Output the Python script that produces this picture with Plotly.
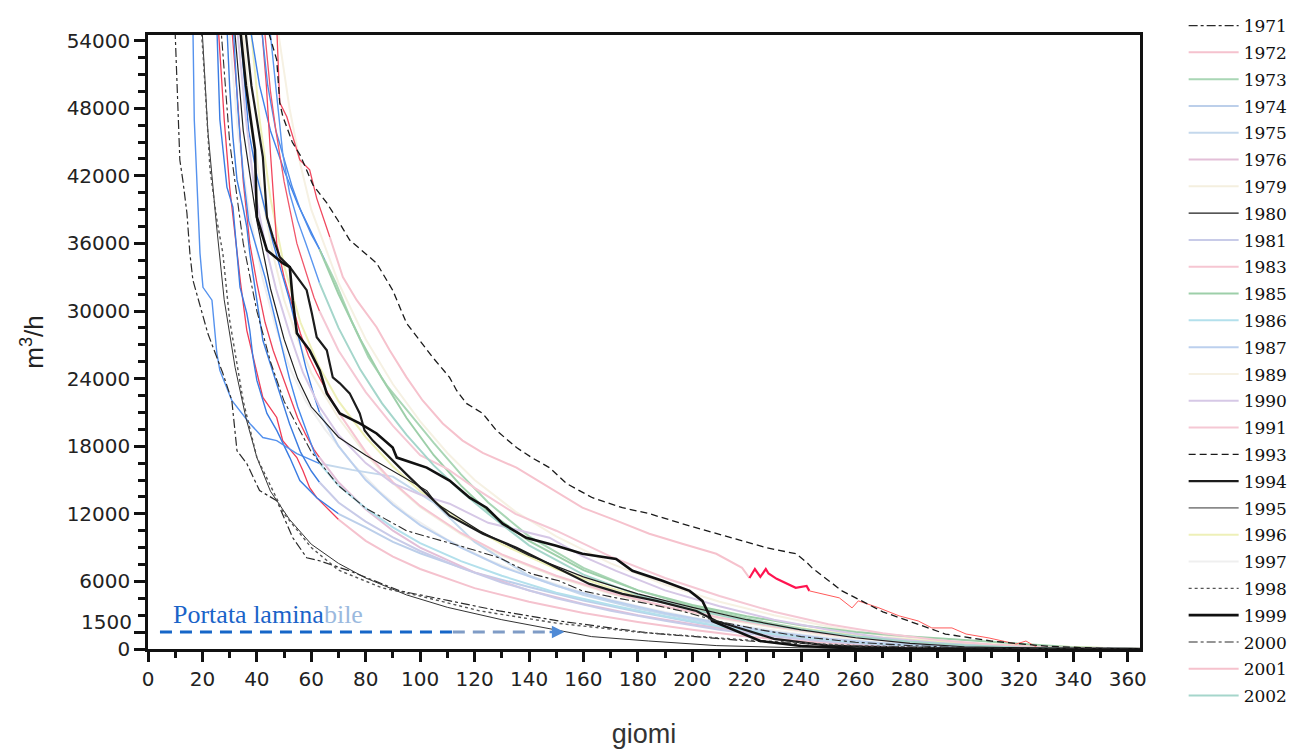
import plotly.graph_objects as go

# ---------------- data ----------------
d1971 = [0, 7, 9.9, 10.6, 11.7, 12.8, 14.3, 15.4, 16.5, 22, 27.5, 30.8, 32.7, 36.3, 41, 47.3, 53.2, 58.3, 63, 74, 92.5, 111, 129, 151, 184, 221, 258, 300, 365]
q1971 = [90000, 62000, 55250, 49900, 43400, 41600, 38700, 35100, 32740, 28000, 24470, 22060, 17600, 16460, 14060, 13170, 9875, 8100, 7830, 6940, 5160, 4270, 3380, 2490, 1420, 710, 270, 60, 0]

d1972 = [0, 24, 26, 28, 30, 32, 34, 36.3, 40, 42.2, 47.3, 49.5, 54.7, 56.9, 59.4, 62, 70, 80, 90, 100, 120, 140, 160, 180, 200, 220, 240, 260, 290, 330, 365]
q1972 = [90000, 62000, 54500, 47000, 41000, 36500, 32500, 28290, 24470, 22330, 20550, 18500, 16990, 15840, 14320, 13430, 11500, 9600, 8200, 7100, 5400, 4200, 3200, 2400, 1700, 1100, 700, 400, 150, 30, 0]

d1973 = [0, 36, 38, 41, 45, 50, 55, 60, 65, 69, 75, 81, 88, 95, 105, 115, 125, 140, 160, 180, 200, 220, 240, 260, 280, 300, 320, 345, 365]
q1973 = [90000, 62000, 54500, 50000, 46000, 42500, 39500, 37000, 34500, 32500, 29000, 25900, 23300, 21200, 18300, 15500, 13000, 10000, 7200, 5200, 3800, 2700, 1800, 1100, 650, 350, 150, 40, 0]

d1974 = [0, 23, 25.3, 26.4, 29, 31.2, 32.7, 33.8, 36.3, 37.4, 38.5, 40, 43.7, 47.3, 52.1, 55.8, 59.4, 62, 70, 80, 90, 100, 120, 140, 160, 180, 200, 220, 240, 260, 280, 300, 330, 365]
q1974 = [90000, 62000, 55250, 47000, 41000, 39230, 35140, 32120, 29800, 28290, 26000, 23840, 20910, 19400, 16990, 14950, 14060, 13430, 12000, 10800, 9500, 8500, 6800, 5500, 4300, 3300, 2400, 1600, 1000, 600, 300, 150, 30, 0]

d1975 = [0, 15, 16.5, 17, 19.1, 20.2, 23.5, 25.3, 26.4, 30.8, 37.4, 42.2, 47.3, 54.7, 63.1, 75, 90, 105, 120, 140, 160, 180, 200, 220, 240, 260, 290, 320, 365]
q1975 = [90000, 62000, 55250, 47000, 35140, 32100, 30960, 26250, 24730, 22060, 20020, 18770, 18500, 17350, 16460, 15900, 15300, 13000, 9500, 6500, 4800, 3600, 2600, 1800, 1100, 600, 250, 60, 0]

d1976 = [0, 29, 31, 33, 35, 37.4, 40, 43, 46, 49, 52, 55, 58, 61, 63, 70, 80, 90, 100, 120, 140, 160, 180, 200, 220, 240, 260, 280, 310, 345, 365]
q1976 = [90000, 62000, 54500, 48500, 41500, 36000, 32500, 29000, 26500, 24500, 22500, 20500, 19000, 17700, 17000, 14800, 12400, 10500, 9000, 6800, 5200, 4000, 3000, 2200, 1500, 950, 550, 280, 80, 10, 0]

d1979 = [0, 33, 35, 38, 42, 46, 50, 55, 60, 70, 80, 90, 100, 115, 130, 150, 170, 190, 210, 230, 250, 270, 290, 320, 365]
q1979 = [90000, 62000, 54500, 47000, 40000, 35000, 31000, 27500, 24500, 20500, 17300, 14700, 12600, 10200, 8300, 6400, 4900, 3700, 2700, 1900, 1200, 700, 350, 100, 0]

d1980 = [0, 30, 32, 35, 40, 45, 50, 55, 60, 70, 80, 91.4, 102.4, 106, 114.5, 121.8, 130, 140, 160, 180, 200, 220, 240, 260, 280, 300, 330, 365]
q1980 = [90000, 62000, 54500, 46000, 38000, 32000, 27500, 24000, 21500, 18800, 17200, 15570, 14060, 12900, 11650, 10500, 9500, 8300, 6400, 4900, 3700, 2600, 1700, 1000, 500, 200, 40, 0]

d1981 = [0, 27, 29, 30, 31.2, 32.7, 34.9, 36.3, 37.4, 38.5, 40, 41.1, 42.2, 43.7, 48, 52, 56, 60, 63, 70, 80, 90, 100, 115, 130, 150, 170, 190, 210, 230, 250, 270, 300, 330, 365]
q1981 = [90000, 62000, 55250, 49900, 45450, 41640, 39230, 37460, 35140, 33360, 31230, 29180, 27400, 26250, 23000, 20000, 17500, 15800, 14800, 13000, 11300, 9900, 8700, 7200, 5900, 4500, 3400, 2500, 1700, 1100, 650, 350, 120, 30, 0]

d1983 = [0, 40, 42, 43.5, 45, 47.3, 50, 53, 56, 59, 62, 70, 80, 90, 100, 115, 130, 150, 170, 190, 210, 230, 250, 270, 290, 310, 340, 365]
q1983 = [90000, 62000, 54500, 50000, 44000, 36000, 33000, 30500, 28000, 26000, 24500, 21000, 17500, 14800, 12700, 10300, 8400, 6500, 5000, 3800, 2800, 2000, 1300, 800, 450, 200, 50, 0]

d1985 = [0, 40, 42, 44, 47, 50, 53, 56, 60, 63, 70, 78, 86, 95, 105, 115, 125, 140, 160, 180, 200, 220, 240, 260, 280, 300, 320, 340, 360, 365]
q1985 = [90000, 62000, 54500, 50000, 46000, 43500, 41000, 39000, 36800, 35500, 31500, 27500, 24000, 20500, 17200, 14500, 12200, 9600, 7000, 5200, 3900, 2900, 2100, 1500, 1100, 800, 450, 150, 30, 0]

d1986 = [0, 30, 31.5, 33, 35, 37, 40, 43, 46, 49, 52, 55, 58, 61, 63, 70, 80, 90, 100, 115, 130, 150, 170, 190, 210, 230, 250, 270, 300, 340, 365]
q1986 = [90000, 60000, 54500, 48000, 42000, 38000, 35500, 33000, 30000, 27000, 24000, 21500, 19500, 17500, 16500, 14500, 12500, 10800, 9400, 7800, 6500, 5000, 3900, 2900, 2000, 1300, 800, 450, 150, 20, 0]

d1987 = [0, 32, 34, 35.5, 37, 40, 43, 46, 49, 52, 55, 58, 61, 63, 70, 80, 90, 100, 115, 130, 150, 170, 190, 210, 230, 250, 270, 300, 340, 365]
q1987 = [90000, 62000, 54500, 50000, 46000, 42000, 39000, 36000, 33500, 31000, 28000, 25000, 22500, 21000, 18000, 15000, 12800, 11000, 9000, 7300, 5600, 4300, 3200, 2300, 1500, 900, 500, 200, 30, 0]

d1989 = [0, 46, 48, 52, 56, 60, 70, 80, 90, 100, 110, 120, 135, 150, 170, 190, 210, 230, 250, 270, 290, 310, 340, 365]
q1989 = [90000, 62000, 54500, 48000, 43000, 39000, 32500, 27500, 23500, 20200, 17400, 15000, 12200, 10000, 7600, 5700, 4200, 3000, 2000, 1200, 650, 300, 60, 0]

d1990 = [0, 31, 33, 36, 39, 43, 47, 52, 57, 63, 70, 80, 90, 100, 110.8, 125, 147.5, 160, 172, 190, 210, 230, 250, 270, 290, 310, 340, 365]
q1990 = [90000, 62000, 54500, 47000, 41000, 36000, 32000, 28000, 24500, 21500, 19000, 16500, 14700, 13700, 12900, 11200, 9875, 8200, 6940, 5200, 3800, 2600, 1700, 1000, 550, 250, 50, 0]

d1991 = [0, 41, 43, 45, 47, 50, 54.7, 58, 61, 63, 70, 80, 90, 100, 110, 120, 135, 150, 170, 190, 210, 230, 250, 270, 290, 310, 330, 350, 365]
q1991 = [90000, 62000, 54500, 49500, 46000, 41500, 36000, 33500, 31200, 30000, 26500, 22800, 19800, 17200, 16000, 14300, 12000, 10500, 8200, 6300, 4700, 3300, 2200, 1400, 800, 400, 150, 40, 0]

d1993 = [0, 41, 43.7, 47.3, 48.4, 49.5, 53, 56, 60.6, 65.7, 69.7, 74.1, 84, 89.9, 95, 99.8, 104.6, 110.8, 113.4, 117, 123, 128, 135.4, 141, 147.5, 153.8, 163.3, 174.3, 184.2, 196.3, 214.7, 227.2, 238.2, 242.2, 244, 255, 270, 287, 293, 310, 330, 350, 365]
q1993 = [90000, 62000, 55250, 52300, 48500, 47300, 45000, 43800, 41200, 39590, 38080, 36300, 34250, 31850, 28910, 27400, 25890, 24110, 22950, 21800, 20910, 19400, 17880, 16990, 16100, 14680, 13430, 12540, 12010, 11120, 9875, 8990, 8450, 7650, 7200, 5160, 3300, 1870, 1330, 700, 250, 60, 0]

d1994 = [0, 35, 36, 38, 42.2, 43.7, 45.9, 48.4, 52.1, 55.8, 58.3, 60.2, 62, 65.7, 67.9, 70.5, 74.1, 77.8, 79.6, 82.6, 85.1, 95, 110.8, 123, 135.4, 145, 152.3, 162.2, 174.3, 186.8, 201.5, 208.8, 217.2, 230, 250, 280, 365]
q1994 = [90000, 62000, 54500, 50000, 43680, 38350, 36570, 34790, 33900, 32740, 31850, 29800, 27670, 26510, 24110, 23580, 22690, 20910, 19400, 18500, 17880, 15500, 11830, 10230, 8990, 7830, 6940, 5780, 4890, 4270, 3380, 2490, 1870, 900, 300, 50, 0]

d1995 = [0, 18, 20, 22, 25, 28, 32, 36, 40, 45, 52, 60, 70, 80, 95, 110, 130, 150, 163, 184, 209, 240, 280, 365]
q1995 = [90000, 62000, 54500, 46000, 38000, 31000, 25000, 20500, 17000, 14000, 11500, 9300, 7600, 6300, 4800, 3700, 2600, 1700, 1100, 710, 300, 100, 20, 0]

d1996 = [0, 36, 38, 41, 45, 50, 56, 63, 70, 80, 90, 100, 115, 130, 150, 170, 190, 210, 230, 250, 270, 290, 310, 330, 345, 360, 365]
q1996 = [90000, 62000, 54500, 47000, 40000, 34000, 29000, 25000, 22000, 18800, 16200, 14000, 11400, 9300, 7100, 5400, 4100, 3000, 2200, 1500, 1000, 650, 400, 250, 150, 50, 0]

d1997 = [0, 28, 30, 33, 37, 42, 47, 52, 58, 65, 75, 85, 95, 110, 125, 140, 160, 180, 200, 220, 240, 260, 280, 300, 330, 365]
q1997 = [90000, 62000, 54500, 46000, 39000, 33000, 28500, 25000, 22000, 19500, 16500, 14000, 12000, 9700, 7900, 6500, 5000, 3800, 2800, 2000, 1300, 800, 450, 200, 50, 0]

d1998 = [0, 18, 20.2, 21.7, 22.8, 25.3, 27.5, 30, 35, 40, 50, 60, 70, 86, 100, 122, 150, 180, 220, 260, 300, 365]
q1998 = [90000, 60000, 52940, 47000, 42530, 38080, 35140, 29180, 22000, 17000, 12000, 9000, 7000, 5430, 4700, 3380, 2300, 1500, 800, 300, 50, 0]

d1999 = [0, 32, 33.8, 36, 39.3, 40, 43.7, 49.5, 52.1, 53.2, 54.7, 59.4, 63.1, 65.7, 70.5, 77.8, 84, 89.9, 91.4, 102.4, 110.8, 118.2, 124.4, 130.3, 139, 150, 159.6, 172, 178, 189, 199, 203.7, 207.3, 216, 225, 240, 260, 365]
q1999 = [90000, 62000, 55250, 50000, 44300, 38350, 35400, 34250, 33900, 30960, 28020, 26510, 24730, 22690, 20910, 20020, 19130, 17880, 16990, 16100, 14950, 13430, 12540, 11120, 9875, 9160, 8450, 8000, 6940, 6050, 5160, 4270, 2490, 1600, 710, 270, 50, 0]

d2000 = [0, 25, 27, 30, 35, 40, 45, 50, 60, 70, 80, 95, 105, 117, 129, 141, 151, 159.6, 172, 184, 196, 209, 225, 240, 260, 280, 300, 330, 365]
q2000 = [90000, 62000, 54500, 45000, 36000, 30000, 25500, 22000, 17500, 14500, 12500, 10500, 9800, 8990, 8100, 6670, 6050, 5160, 4540, 4000, 3380, 2490, 1700, 1100, 600, 300, 120, 30, 0]

d2001 = [0, 45, 47.3, 48.4, 51, 55.8, 59.4, 62, 66.8, 71.6, 76.7, 84, 88.8, 95, 100.9, 108.3, 115.6, 123, 135.4, 147.5, 159.6, 172.1, 184.2, 196.3, 208.8, 218.3, 221, 223, 225, 227, 228, 231, 238, 242, 243, 254, 258.7, 261, 268.6, 276, 283, 288, 295.4, 300.6, 309, 319, 322.6, 327, 336, 365]
q2001 = [90000, 62000, 55250, 48500, 47240, 43420, 42530, 40000, 36570, 33010, 30960, 28560, 26510, 24110, 22060, 20020, 18500, 17400, 16100, 14320, 12540, 11390, 10230, 9340, 8450, 7200, 6300, 7100, 6400, 7100, 6700, 6230, 5430, 5600, 5160, 4540, 3650, 4270, 3650, 2940, 2490, 1870, 1870, 1330, 980, 440, 710, 90, 0, 0]

d2002 = [0, 43, 45, 47, 49.5, 52, 55, 58, 61, 63, 70, 78, 86, 95, 105, 115, 125, 140, 160, 180, 200, 220, 240, 260, 280, 300, 320, 345, 365]
q2002 = [90000, 62000, 54500, 50000, 44000, 40500, 38000, 36000, 34000, 32500, 28500, 24800, 21800, 19000, 16300, 14000, 12000, 9200, 6600, 4800, 3500, 2500, 1700, 1100, 650, 330, 130, 30, 0]

portata_laminabile = 1500
laminabile_days = [4.4, 112, 149]

x_ticks = list(range(0, 361, 20))
y_ticks = [0, 1500, 6000, 12000, 18000, 24000, 30000, 36000, 42000, 48000, 54000]
y_ticktext = ["0", "", "6000", "12000", "18000", "24000", "30000", "36000", "42000", "48000", "54000"]

series = {
    "1971": (d1971, q1971), "1972": (d1972, q1972), "1973": (d1973, q1973),
    "1974": (d1974, q1974), "1975": (d1975, q1975), "1976": (d1976, q1976),
    "1979": (d1979, q1979), "1980": (d1980, q1980), "1981": (d1981, q1981),
    "1983": (d1983, q1983), "1985": (d1985, q1985), "1986": (d1986, q1986),
    "1987": (d1987, q1987), "1989": (d1989, q1989), "1990": (d1990, q1990),
    "1991": (d1991, q1991), "1993": (d1993, q1993), "1994": (d1994, q1994),
    "1995": (d1995, q1995), "1996": (d1996, q1996), "1997": (d1997, q1997),
    "1998": (d1998, q1998), "1999": (d1999, q1999), "2000": (d2000, q2000),
    "2001": (d2001, q2001), "2002": (d2002, q2002),
}
years = list(series.keys())

# ---------------- styles ----------------
RD = "#f03c55"
styles = {
    "1971": dict(segs=[("#2a2a2a", 1.2)], dash="dashdot"),
    "1972": dict(segs=[(RD, 1.3), ("#f5c2ce", 2.0)]),
    "1973": dict(segs=[("#3f82ea", 1.4), ("#a9d6b5", 2.0)]),
    "1974": dict(segs=[("#3a7ce3", 1.4), ("#bccfea", 2.0)]),
    "1975": dict(segs=[("#5592ee", 1.4), ("#c4d8ec", 2.0)]),
    "1976": dict(segs=[("#ee4259", 1.3), ("#e3bfd8", 2.0)]),
    "1979": dict(segs=[("#f4efdf", 2.0)]),
    "1980": dict(segs=[("#1e1e1e", 1.2)]),
    "1981": dict(segs=[("#3c7de0", 1.4), ("#c8cbe8", 2.0)]),
    "1983": dict(segs=[("#f2465c", 1.3), ("#f6c6d2", 2.0)]),
    "1985": dict(segs=[("#4d8cea", 1.4), ("#9dcfa9", 2.0)]),
    "1986": dict(segs=[("#4488ec", 1.4), ("#b3e0ec", 2.0)]),
    "1987": dict(segs=[("#3a7ce4", 1.4), ("#bcd0ee", 2.0)]),
    "1989": dict(segs=[("#f6f1e3", 2.0)]),
    "1990": dict(segs=[("#d6c8e6", 2.0)]),
    "1991": dict(segs=[("#f0566a", 1.3), ("#f5c8d4", 2.0)]),
    "1993": dict(segs=[("#1a1a1a", 1.3)], dash="7px,4px"),
    "1994": dict(segs=[("#1c1c1c", 2.2)]),
    "1995": dict(segs=[("#333333", 1.0)]),
    "1996": dict(segs=[("#eef0b8", 2.0)]),
    "1997": dict(segs=[("#efefef", 2.0)]),
    "1998": dict(segs=[("#555555", 1.4)], dash="dot"),
    "1999": dict(segs=[("#111111", 2.6)]),
    "2000": dict(segs=[("#2c2c2c", 1.1)], dash="dashdot"),
    "2001": dict(segs=[("#f0485e", 1.3), ("#f6c2cd", 2.0), ("#ff1450", 2.2), ("#ff5a5a", 1.0)]),
    "2002": dict(segs=[("#5a96ef", 1.4), ("#a5d6cb", 2.0)]),
}
SPLIT = 63
cuts_2001 = [63, 221, 243]


def split(d, q, cuts):
    pieces, start = [], 0
    for c in cuts:
        k = next(i for i, x in enumerate(d) if x >= c)
        pieces.append((d[start:k + 1], q[start:k + 1]))
        start = k
    pieces.append((d[start:], q[start:]))
    return pieces


faint = {"1979", "1989", "1997", "1996"}
blacks = {"1971", "1980", "1993", "1994", "1995", "1998", "1999", "2000"}

fig = go.Figure()
order = sorted(years, key=lambda y: (0 if y in faint else (2 if y in blacks else 1)))
for yr in order:
    d, q = series[yr]
    st = styles[yr]
    segs = st["segs"]
    if yr == "2001":
        pieces = split(d, q, cuts_2001)
    elif len(segs) == 2:
        pieces = split(d, q, [SPLIT])
    else:
        pieces = [(d, q)]
    legend_idx = 1 if len(segs) > 1 else 0
    for i, ((px, py), (col, w)) in enumerate(zip(pieces, segs)):
        fig.add_trace(go.Scatter(
            x=px, y=py, mode="lines", name=yr, legendgroup=yr,
            legendrank=years.index(yr) + 1,
            showlegend=(i == legend_idx),
            line=dict(color=col, width=w, dash=st.get("dash", "solid")),
            hoverinfo="skip",
        ))

# Portata laminabile dashed arrow
fig.add_trace(go.Scatter(x=laminabile_days[:2], y=[portata_laminabile] * 2, mode="lines",
                         line=dict(color="#1666c8", width=3, dash="12px,8px"),
                         showlegend=False, hoverinfo="skip"))
fig.add_trace(go.Scatter(x=laminabile_days[1:], y=[portata_laminabile] * 2, mode="lines",
                         line=dict(color="#7f9cc6", width=3, dash="12px,8px"),
                         showlegend=False, hoverinfo="skip"))
fig.add_annotation(x=laminabile_days[2] + 4, y=portata_laminabile, ax=laminabile_days[2] - 2,
                   ay=portata_laminabile, axref="x", ayref="y", xref="x", yref="y",
                   text="", showarrow=True, arrowhead=2, arrowsize=1, arrowwidth=2.5,
                   arrowcolor="#4f8ad6")
fig.add_annotation(x=8.5, y=3100, xref="x", yref="y", xanchor="left", yanchor="middle",
                   text='Portata lamina<span style="color:#9bb9de">bile</span>', showarrow=False,
                   font=dict(family="Liberation Serif", size=26, color="#1a63c8"))

axis_font = dict(family="DejaVu Sans", size=20, color="#222222")
# "1500" label sits a little above its tick in the original
fig.add_annotation(x=0, y=portata_laminabile, xref="paper", yref="y", xanchor="right",
                   yanchor="middle", xshift=-14, yshift=10, text="1500", showarrow=False,
                   font=axis_font)

fig.update_xaxes(range=[0, 364.5], tickvals=x_ticks, ticks="outside", ticklen=10, tickwidth=2.5,
                 tickcolor="#111", showline=True, linewidth=2.5, linecolor="#111", mirror=True,
                 showgrid=False, zeroline=False, tickfont=axis_font, automargin=False,
                 minor=dict(dtick=10, tick0=0, ticks="outside", ticklen=6, tickwidth=2.5, tickcolor="#111", showgrid=False),
                 title=dict(text="giomi", font=dict(family="Liberation Sans", size=27, color="#333"), standoff=36))
fig.update_yaxes(range=[0, 54500], tickvals=y_ticks, ticktext=y_ticktext,
                 ticks="outside", ticklen=11, tickwidth=2.5, tickcolor="#111",
                 showline=True, linewidth=2.5, linecolor="#111", mirror=True,
                 showgrid=False, zeroline=False, tickfont=axis_font, automargin=False,
                 minor=dict(dtick=1500, tick0=0, ticks="outside", ticklen=7, tickwidth=2.5, tickcolor="#111", showgrid=False),
                 title=dict(text="m<sup>3</sup>/h", font=dict(family="Liberation Sans", size=26, color="#222"), standoff=16))

# the page body adds an 8px offset, so the figure is 8px smaller and margins compensate
fig.update_layout(
    width=1291, height=741,
    margin=dict(l=140, r=159, t=27, b=100, autoexpand=False),
    paper_bgcolor="white", plot_bgcolor="white",
    legend=dict(x=1.044, y=1.044, xanchor="left", yanchor="top", traceorder="grouped",
                tracegroupgap=1.7, itemwidth=50, bgcolor="rgba(0,0,0,0)", maxheight=740,
                font=dict(family="DejaVu Serif", size=17, color="#111")),
    showlegend=True,
)

fig.write_html("out.html")
